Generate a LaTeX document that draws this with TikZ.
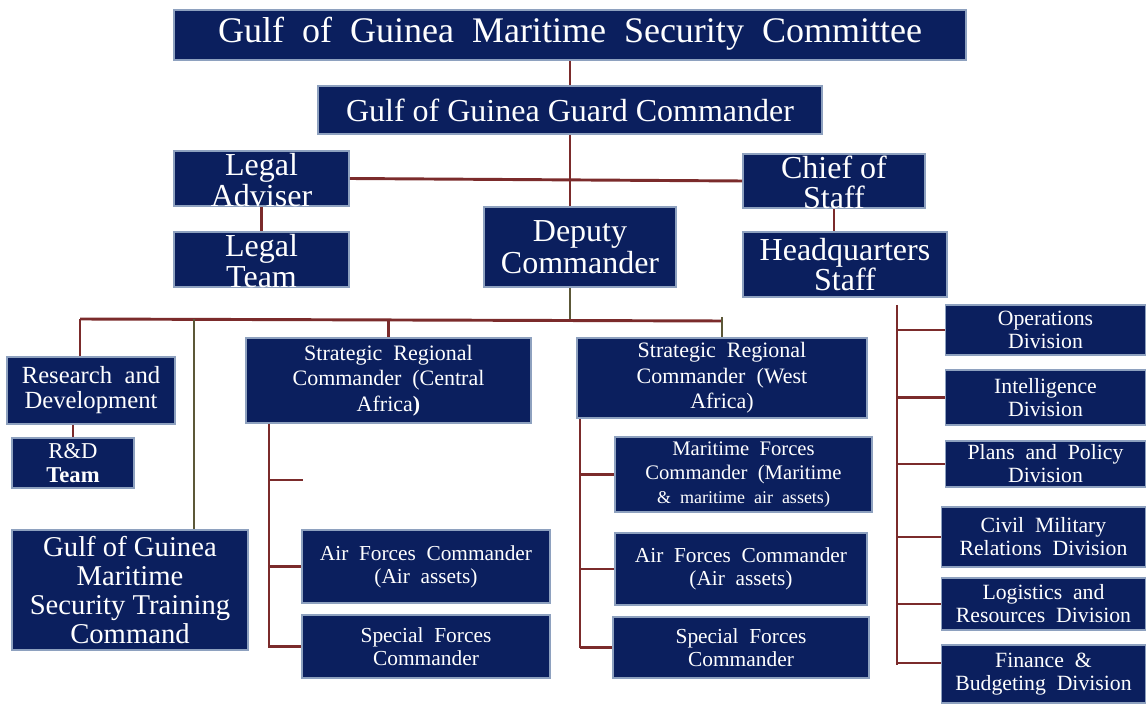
\documentclass[tikz,border=0pt]{standalone}
\usepackage{fontspec}
\setmainfont{Liberation Serif}
\newfontfamily\wsa[WordSpace=1.4]{Liberation Serif}
\newfontfamily\wsb[WordSpace=1.6]{Liberation Serif}
\newfontfamily\wsc[WordSpace=2.0]{Liberation Serif}
\usetikzlibrary{calc}
\definecolor{navy}{HTML}{0B1F5E}
\definecolor{edge}{HTML}{8EA1BF}
\definecolor{lred}{HTML}{7B2B2B}
\definecolor{olive}{HTML}{5C5838}
\tikzset{
  box/.style={draw=edge, line width=1.2pt, fill=navy, inner sep=0pt},
  txt/.style={text=white, align=center, inner sep=0pt},
  link/.style={draw=lred, line width=2.2pt},
  olink/.style={draw=olive, line width=2.2pt},
  fA/.style={font=\wsa\fontsize{27}{30}\selectfont},
  fB/.style={font=\fontsize{24}{26}\selectfont},
  fC/.style={font=\fontsize{24}{23}\selectfont},
  fR/.style={font=\wsb\fontsize{18.5}{18.75}\selectfont},
  fT/.style={font=\fontsize{17}{18}\selectfont},
  fS/.style={font=\wsb\fontsize{16.5}{19}\selectfont},
  fM/.style={font=\wsb\fontsize{15.5}{18}\selectfont},
  fF/.style={font=\wsb\fontsize{16}{17.2}\selectfont},
  fW/.style={font=\wsc\fontsize{16.05}{17.2}\selectfont},
  fD/.style={font=\wsb\fontsize{16.3}{17.2}\selectfont},
  fG/.style={font=\fontsize{21.5}{21.75}\selectfont},
}
\begin{document}
\begin{tikzpicture}[x=0.75pt,y=-0.75pt]
\useasboundingbox (0,0) rectangle (1146,705);
% boxes
\node[box,minimum width=594pt,minimum height=37.5pt] (comm) at (570,35) {};
\node[box,minimum width=378pt,minimum height=36pt] (guard) at (570,110) {};
\node[box,minimum width=131.25pt,minimum height=41.25pt] (ladv) at (261.5,178.5) {};
\node[box,minimum width=131.25pt,minimum height=41.25pt] (lteam) at (261.5,259.5) {};
\node[box,minimum width=136.5pt,minimum height=40.5pt] (chief) at (834,181) {};
\node[box,minimum width=153pt,minimum height=48.75pt] (hq) at (845,264.5) {};
\node[box,minimum width=144pt,minimum height=60pt] (dep) at (580,247) {};
\node[box,minimum width=126pt,minimum height=50.25pt] (rd) at (91,390.5) {};
\node[box,minimum width=91.5pt,minimum height=37.5pt] (rdt) at (73,463) {};
\node[box,minimum width=177pt,minimum height=90pt] (train) at (130,590) {};
\node[box,minimum width=213.75pt,minimum height=63.75pt] (cen) at (388.5,380.5) {};
\node[box,minimum width=217.5pt,minimum height=60pt] (west) at (722,378) {};
\node[box,minimum width=192.75pt,minimum height=56.25pt] (mar) at (743.5,474.5) {};
\node[box,minimum width=186pt,minimum height=54.75pt] (airc) at (426,566.5) {};
\node[box,minimum width=186pt,minimum height=47.25pt] (specc) at (426,646.5) {};
\node[box,minimum width=189pt,minimum height=54pt] (airw) at (741,569) {};
\node[box,minimum width=192pt,minimum height=45.75pt] (specw) at (741,647.5) {};
\node[box,minimum width=150pt,minimum height=37.5pt] (ops) at (1045.5,330) {};
\node[box,minimum width=150pt,minimum height=41.25pt] (intel) at (1045.5,397.5) {};
\node[box,minimum width=150pt,minimum height=34.5pt] (plans) at (1045.5,464) {};
\node[box,minimum width=153pt,minimum height=45pt] (civil) at (1043.5,537) {};
\node[box,minimum width=153pt,minimum height=39pt] (log) at (1043.5,604) {};
\node[box,minimum width=153pt,minimum height=43.5pt] (fin) at (1043.5,674) {};
% texts
\node[txt,fA] (commT) at ([yshift=1pt]comm.center) {Gulf of Guinea Maritime Security Committee};
\node[txt,fB] (guardT) at (guard.center) {Gulf of Guinea Guard Commander};
\node[txt,fC] (ladvT) at ([yshift=-1pt]ladv.center) {Legal\\Adviser};
\node[txt,fC] (lteamT) at ([yshift=-1pt]lteam.center) {Legal\\Team};
\node[txt,fC] (chiefT) at ([yshift=-1pt]chief.center) {Chief of\\Staff};
\node[txt,fC] (hqT) at (hq.center) {Headquarters\\Staff};
\node[txt,font=\fontsize{24}{24}\selectfont] (depT) at (dep.center) {Deputy\\Commander};
\node[txt,fR] (rdT) at (rd.center) {Research and\\Development};
\node[txt,fT] (rdtT) at (rdt.center) {R\&D\\\textbf{Team}};
\node[txt,fG] (trainT) at (train.center) {Gulf of Guinea\\Maritime\\Security Training\\Command};
\node[txt,fS] (cenT) at (cen.center) {Strategic Regional\\Commander (Central\\Africa\textbf{)}};
\node[txt,fS] (westT) at (west.center) {Strategic Regional\\Commander (West\\Africa)};
\node[txt,fM] (marT) at (mar.center) {Maritime Forces\\Commander (Maritime\\{\fontsize{13.5}{18}\selectfont \& maritime air assets)}};
\node[txt,fF] (aircT) at (airc.center) {Air Forces Commander\\(Air assets)};
\node[txt,fW] (speccT) at (specc.center) {Special Forces\\Commander};
\node[txt,fF] (airwT) at (airw.center) {Air Forces Commander\\(Air assets)};
\node[txt,fW] (specwT) at (specw.center) {Special Forces\\Commander};
\node[txt,fD] (opsT) at (ops.center) {Operations\\Division};
\node[txt,fD] (intelT) at (intel.center) {Intelligence\\Division};
\node[txt,fD] (plansT) at (plans.center) {Plans and Policy\\Division};
\node[txt,fD] (civilT) at (civil.center) {Civil Military\\Relations Division};
\node[txt,fD] (logT) at (log.center) {Logistics and\\Resources Division};
\node[txt,fD] (finT) at (fin.center) {Finance \&\\Budgeting Division};
% coordinates
\coordinate (barL) at (80,319);
\coordinate (barR) at (722,321);
\coordinate (trb) at (194,319);
\coordinate (cs) at (269,648);
\coordinate (cfree) at (303,480);
\coordinate (ws) at (580,648);
\coordinate (hs) at (897,305);
\coordinate (he) at (897,665);
\coordinate (fb) at (897,663);
% connectors
\draw[link] (comm.south) -- (guard.north);
\draw[link] (guard.south) -- (guard.south |- dep.north);
\draw[link] (ladv.east) -- (chief.west);
\draw[link] (ladv.south) -- (lteam.north);
\draw[link] (chief.south) -- (chief.south |- hq.north);
\draw[olink] (guard.south |- dep.south) -- (guard.south |- barL);
\draw[link] (barL) -- (barR);
\draw[link] (barL) -- (barL |- rd.north);
\draw[link] (cen.north |- barL) -- (cen.north);
\draw[olink] (trb) -- (trb |- train.north);
\draw[olink] (west.north |- barL) ++(0,-2) -- (west.north);
\draw[link] (rdt.north |- rd.south) -- (rdt.north);
% central
\draw[link] (cs |- cen.south) -- (cs);
\draw[link] (cs |- cfree) -- (cfree);
\draw[link] (cs |- airc.west) -- (airc.west);
\draw[link] (cs |- specc.west) -- (specc.west);
% west
\draw[link] (ws |- west.south) -- (ws);
\draw[link] (ws |- mar.west) -- (mar.west);
\draw[link] (ws |- airw.west) -- (airw.west);
\draw[link] (ws |- specw.west) -- (specw.west);
% hq
\draw[link] (hs) -- (he);
\draw[link] (hs |- ops.west) -- (ops.west);
\draw[link] (hs |- intel.west) -- (intel.west);
\draw[link] (hs |- plans.west) -- (plans.west);
\draw[link] (hs |- civil.west) -- (civil.west);
\draw[link] (hs |- log.west) -- (log.west);
\draw[link] (fb) -- (fb -| fin.west);
\end{tikzpicture}
\end{document}
